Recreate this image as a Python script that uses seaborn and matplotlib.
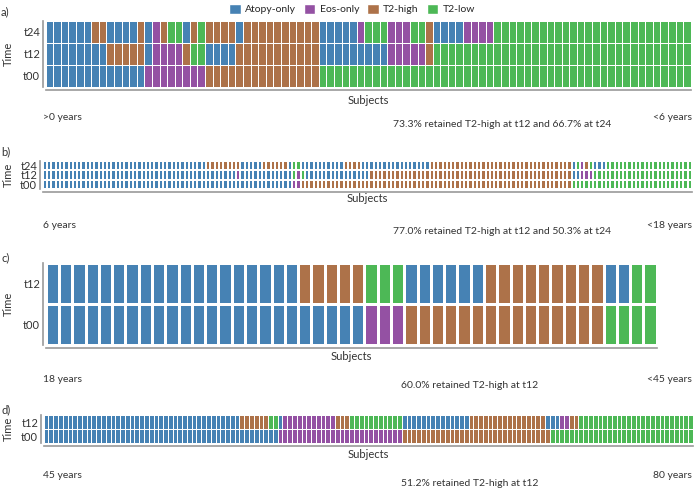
import numpy as np
import pandas as pd
import matplotlib
matplotlib.use("Agg")
import matplotlib.pyplot as plt
import seaborn as sns
from matplotlib.colors import ListedColormap
from matplotlib.patches import Patch

W, H = 695, 488

CATEGORIES = ["Atopy-only", "Eos-only", "T2-high", "T2-low"]
COLORS = ["#4682b4", "#9451a3", "#ad7249", "#4db856"]
CODE = {"A": 0, "E": 1, "H": 2, "L": 3}

# phenotype per subject, as runs of (category code, number of subjects)
# a) >0 to <6 years
A_T24 = [("A", 6), ("H", 2), ("A", 4), ("H", 1), ("A", 1), ("E", 1), ("H", 1), ("L", 2),
         ("A", 1), ("H", 1), ("L", 1), ("H", 4), ("A", 1), ("H", 10), ("A", 5), ("E", 1),
         ("L", 3), ("E", 3), ("L", 2), ("H", 1), ("A", 4), ("E", 4), ("L", 26)]
A_T12 = [("A", 8), ("H", 5), ("A", 1), ("E", 4), ("H", 1), ("L", 2), ("A", 4), ("H", 11),
         ("A", 9), ("E", 5), ("H", 1), ("L", 34)]
A_T00 = [("A", 13), ("E", 8), ("H", 15), ("L", 49)]

# b) 6 to <18 years
B_T24 = [("A", 38), ("H", 8), ("A", 5), ("H", 6), ("A", 1), ("L", 2), ("A", 10), ("H", 4),
         ("A", 16), ("H", 33), ("A", 1), ("L", 1), ("E", 1), ("H", 1), ("L", 1), ("A", 3),
         ("L", 20)]
B_T12 = [("A", 45), ("E", 1), ("A", 12), ("L", 1), ("E", 1), ("L", 1), ("A", 15), ("H", 47),
         ("A", 2), ("E", 3), ("L", 23)]
B_T00 = [("A", 58), ("E", 2), ("H", 63), ("L", 28)]

# c) 18 to <45 years
C_T12 = [("A", 19), ("H", 5), ("L", 3), ("A", 6), ("H", 9), ("A", 2), ("L", 2)]
C_T00 = [("A", 24), ("E", 3), ("H", 15), ("L", 4)]

# d) 45 to 80 years
D_T12 = [("A", 41), ("H", 6), ("L", 2), ("A", 1), ("E", 11), ("H", 3), ("L", 11), ("A", 14),
         ("H", 16), ("A", 3), ("E", 2), ("H", 2), ("L", 24)]
D_T00 = [("A", 49), ("E", 26), ("H", 31), ("L", 30)]

PANELS = [
    ("a)", [A_T24, A_T12, A_T00], ["t24", "t12", "t00"], ">0 years", "<6 years",
     "73.3% retained T2-high at t12 and 66.7% at t24"),
    ("b)", [B_T24, B_T12, B_T00], ["t24", "t12", "t00"], "6 years", "<18 years",
     "77.0% retained T2-high at t12 and 50.3% at t24"),
    ("c)", [C_T12, C_T00], ["t12", "t00"], "18 years", "<45 years",
     "60.0% retained T2-high at t12"),
    ("d)", [D_T12, D_T00], ["t12", "t00"], "45 years", "80 years",
     "51.2% retained T2-high at t12"),
]

# pixel boxes of the cell areas: left, top, right, bottom
BOXES = [(45.7, 21, 690.7, 87), (42.7, 160.7, 692, 189),
         (45.7, 263.3, 656.7, 345), (43.7, 415, 693, 443.3)]
# y positions (px) of: panel tag, "Subjects", age text, retention text
TEXT_Y = [(12, 101, 117, 125), (152, 198, 225, 232),
          (258, 356, 379, 386), (410, 455, 476, 483)]
RET_X = [502, 502, 470, 470]
GRID_LW = [0.6, 0.35, 0.8, 0.4]


def expand(runs):
    out = []
    for code, n in runs:
        out += [CODE[code]] * n
    return out


sns.set_theme(style="white")
plt.rcParams["font.family"] = ["Lato", "DejaVu Sans"]
plt.rcParams["font.size"] = 7.5

cmap = ListedColormap(COLORS)
fig = plt.figure(figsize=(W / 100, H / 100), dpi=100)

for (tag, rows, labels, left_txt, right_txt, ret_txt), box, ty, rx, glw in zip(
        PANELS, BOXES, TEXT_Y, RET_X, GRID_LW):
    l, t, r, b = box
    ax = fig.add_axes([l / W, 1 - b / H, (r - l) / W, (b - t) / H])
    df = pd.DataFrame([expand(rw) for rw in rows], index=labels)
    sns.heatmap(df, ax=ax, cmap=cmap, vmin=-0.5, vmax=3.5, cbar=False,
                linewidths=glw, linecolor="white", xticklabels=False, yticklabels=labels)
    ax.tick_params(left=False, bottom=False, length=0, pad=2, labelsize=8,
                   labelcolor="#333333", labelrotation=0)
    sns.despine(ax=ax, offset=2)
    for s in ["left", "bottom"]:
        ax.spines[s].set_color("#999999")
        ax.spines[s].set_linewidth(1.2)
    ax.set_xlabel("Subjects", fontsize=8, color="#333333")
    ax.set_ylabel("Time", fontsize=8, color="#333333")
    ax.xaxis.set_label_coords((l + r) / 2 / W, 1 - ty[1] / H, transform=fig.transFigure)
    ax.yaxis.set_label_coords(8 / W, 1 - (t + b) / 2 / H, transform=fig.transFigure)
    ax.xaxis.label.set_va("center")
    ax.yaxis.label.set_va("center")

    fig.text(1 / W, 1 - ty[0] / H, tag, fontsize=8, va="center", color="#333333")
    fig.text(43 / W, 1 - ty[2] / H, left_txt, fontsize=7.5, va="center", color="#333333")
    fig.text(692 / W, 1 - ty[2] / H, right_txt, fontsize=7.5, va="center", ha="right",
             color="#333333")
    fig.text(rx / W, 1 - ty[3] / H, ret_txt, fontsize=7.5, va="center", ha="center",
             color="#333333")

handles = [Patch(facecolor=c, label=n) for c, n in zip(COLORS, CATEGORIES)]
fig.legend(handles=handles, loc="upper center", bbox_to_anchor=(352 / W, 1.012), ncol=4,
           frameon=False, fontsize=7.5, handlelength=1.1, handleheight=1.1,
           columnspacing=0.8, handletextpad=0.4)

fig.savefig("out.png", dpi=100)
